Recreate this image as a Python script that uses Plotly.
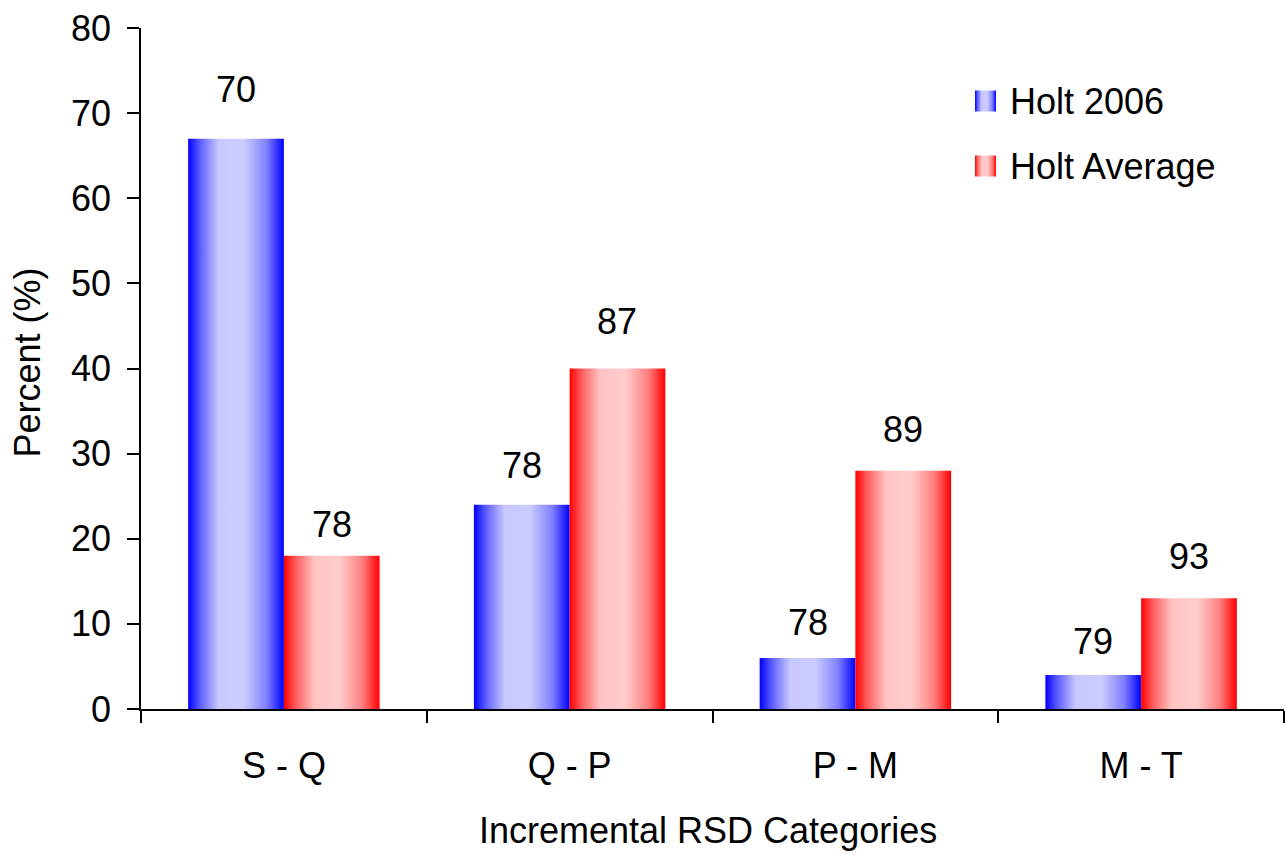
import plotly.graph_objects as go

# Chart data
categories = ["S - Q", "Q - P", "P - M", "M - T"]
holt_2006 = [67, 24, 6, 4]
holt_average = [18, 40, 28, 13]
labels_2006 = ["70", "78", "78", "79"]
labels_average = ["78", "87", "89", "93"]
y_tick_values = [0, 10, 20, 30, 40, 50, 60, 70, 80]
series_names = ["Holt 2006", "Holt Average"]

# Styling
FONT = "Liberation Sans, Arial, sans-serif"
FONT_SIZE = 36
BAR_WIDTH = 0.335
BLUE_SCALE = [[0, "#0000ff"], [0.12, "#5a5aff"], [0.32, "#c8c8ff"],
              [0.58, "#ccccff"], [0.82, "#8080ff"], [1, "#0000ff"]]
RED_SCALE = [[0, "#ff0000"], [0.12, "#ff5a5a"], [0.32, "#ffc4c4"],
             [0.58, "#ffcccc"], [0.82, "#ff8080"], [1, "#ff0000"]]
# vertical offset (px) of each value label above its bar
shift_2006 = [49, 39, 35, 33]
shift_average = [31, 47, 41, 42]

# plot area size in pixels (used by the legend overlay axes)
MARGIN = dict(l=141, r=2, t=28, b=147)
PLOT_W = 1286 - MARGIN["l"] - MARGIN["r"]
PLOT_H = 856 - MARGIN["t"] - MARGIN["b"]

fig = go.Figure()


def add_series(values, scale, side):
    for i, v in enumerate(values):
        x0 = i - BAR_WIDTH if side == "left" else i
        x1 = x0 + BAR_WIDTH
        fig.add_trace(go.Scatter(
            x=[x0, x1, x1, x0, x0],
            y=[0, 0, v, v, 0],
            mode="none",
            fill="toself",
            fillgradient=dict(type="horizontal", colorscale=scale),
            showlegend=False,
            hoverinfo="skip",
        ))


add_series(holt_2006, BLUE_SCALE, "left")
add_series(holt_average, RED_SCALE, "right")

txt_font = dict(family=FONT, size=FONT_SIZE, color="black")

# value labels above the bars
for i, (v, t, s) in enumerate(zip(holt_2006, labels_2006, shift_2006)):
    fig.add_annotation(x=i - BAR_WIDTH / 2, y=v, text=t, showarrow=False,
                       yshift=s, font=txt_font)
for i, (v, t, s) in enumerate(zip(holt_average, labels_average, shift_average)):
    fig.add_annotation(x=i + BAR_WIDTH / 2, y=v, text=t, showarrow=False,
                       yshift=s, font=txt_font)

# legend: gradient swatches on a pixel-scaled overlay, labels beside them
legend_rows = [(series_names[0], BLUE_SCALE, 101), (series_names[1], RED_SCALE, 166)]
SW_LEFT, SW_SIZE = 975 - MARGIN["l"], 21
for name, scale, cy in legend_rows:
    yc = MARGIN["t"] + PLOT_H - cy
    fig.add_trace(go.Scatter(
        x=[SW_LEFT, SW_LEFT + SW_SIZE, SW_LEFT + SW_SIZE, SW_LEFT, SW_LEFT],
        y=[yc - SW_SIZE / 2, yc - SW_SIZE / 2, yc + SW_SIZE / 2, yc + SW_SIZE / 2, yc - SW_SIZE / 2],
        xaxis="x2", yaxis="y2",
        mode="none", fill="toself",
        fillgradient=dict(type="horizontal", colorscale=scale),
        showlegend=False, hoverinfo="skip",
    ))
    fig.add_annotation(text=name, xref="paper", yref="paper", x=0, y=1,
                       xshift=1008 - MARGIN["l"], yshift=-(cy - MARGIN["t"]),
                       xanchor="left", yanchor="middle", showarrow=False,
                       font=txt_font)

# axis titles
fig.add_annotation(text="Percent (%)", xref="paper", yref="paper", x=0, y=0.5,
                   xshift=-114, yshift=6, textangle=-90, showarrow=False,
                   xanchor="center", yanchor="middle", font=txt_font)
fig.add_annotation(text="Incremental RSD Categories", xref="paper", yref="paper",
                   x=0.5, y=0, yshift=-121, xshift=-5, showarrow=False,
                   xanchor="center", yanchor="middle", font=txt_font)

fig.update_layout(
    xaxis=dict(
        range=[-0.5, 3.5],
        tickmode="array",
        tickvals=list(range(len(categories))),
        ticktext=categories,
        ticks="",
        ticklabelstandoff=24,
        minor=dict(tickmode="array", tickvals=[-0.5, 0.5, 1.5, 2.5, 3.5],
                   ticks="outside", ticklen=12, tickcolor="black", tickwidth=1.5),
        showline=True, linecolor="black", linewidth=1.5,
        showgrid=False, zeroline=False,
        tickfont=txt_font, fixedrange=True,
    ),
    yaxis=dict(
        range=[0, 80],
        tickmode="array",
        tickvals=y_tick_values,
        ticks="outside", ticklen=12, tickcolor="black", tickwidth=1.5,
        ticklabelstandoff=9,
        showline=True, linecolor="black", linewidth=1.5,
        showgrid=False, zeroline=False,
        tickfont=txt_font, fixedrange=True,
    ),
    xaxis2=dict(overlaying="x", anchor="y2", range=[0, PLOT_W], visible=False,
                fixedrange=True),
    yaxis2=dict(overlaying="y", anchor="x2", range=[0, PLOT_H], visible=False,
                fixedrange=True),
    width=1286, height=856,
    margin=MARGIN,
    plot_bgcolor="white", paper_bgcolor="white",
    font=txt_font,
    showlegend=False,
)

fig.write_html("out.html", config={"displayModeBar": False})
